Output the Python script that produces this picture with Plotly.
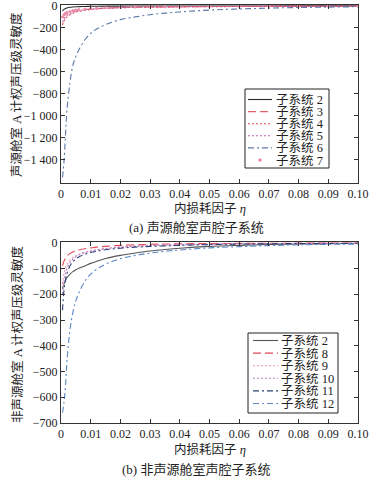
import plotly.graph_objects as go

# ---------------- data ----------------
eta = [0.0005, 0.001, 0.0015, 0.002, 0.003, 0.004, 0.005, 0.006, 0.008, 0.01,
       0.012, 0.015, 0.02, 0.025, 0.03, 0.035, 0.04, 0.05, 0.06, 0.07, 0.08, 0.09, 0.1]

# (a) source cabin
a_sub2 = [-48, -32, -24, -19, -13, -10, -8, -7, -5, -4, -3, -2.5, -2, -1.5, -1.2, -1, -0.9, -0.7, -0.6, -0.5, -0.4, -0.4, -0.3]
a_sub3 = [-110, -90, -78, -70, -58, -50, -45, -40, -33, -28, -24, -20, -15, -12, -10, -9, -8, -6, -5, -4, -4, -3, -3]
a_sub4 = [-175, -140, -115, -100, -80, -66, -57, -50, -40, -33, -28, -23, -17, -14, -12, -10, -9, -7, -6, -5, -4, -4, -3]
a_sub5 = [-150, -120, -100, -88, -70, -58, -50, -44, -35, -29, -25, -20, -15, -12, -10, -9, -8, -6, -5, -4, -4, -3, -3]
a_sub6 = [-1560, -1420, -1180, -950, -700, -540, -460, -400, -310, -250, -210, -170, -125, -100, -80, -66, -55, -38, -28, -20, -15, -11, -8]
a_sub7 = [-100, -80, -68, -60, -50, -43, -38, -34, -28, -24, -21, -17, -13, -11, -9, -8, -7, -6, -5, -4, -3, -3, -2]

# (b) non-source cabins
b_sub2 = [-178, -160, -148, -135, -122, -112, -105, -99, -90, -80, -72, -61, -49, -40, -32, -26, -21, -14, -10, -7, -5, -4, -3]
b_sub8 = [-90, -72, -60, -52, -42, -36, -32, -28, -23, -20, -17, -14, -10, -8, -6, -5, -4, -3, -2.5, -2, -1.5, -1.2, -1]
b_sub9 = [-160, -120, -100, -85, -68, -57, -50, -45, -37, -31, -27, -22, -17, -13, -11, -9, -8, -6, -4, -3, -3, -2, -2]
b_sub10 = [-200, -150, -120, -100, -78, -64, -55, -48, -39, -33, -28, -23, -17, -14, -11, -9, -8, -6, -4, -3, -3, -2, -2]
b_sub11 = [-262, -185, -145, -120, -90, -74, -63, -55, -45, -38, -33, -27, -21, -17, -14, -12, -10, -7, -5, -4, -3, -3, -2]
b_sub12 = [-660, -620, -560, -460, -340, -270, -225, -195, -150, -122, -103, -83, -62, -49, -40, -33, -28, -20, -15, -11, -8, -6, -5]

x_ticks = [0, 0.01, 0.02, 0.03, 0.04, 0.05, 0.06, 0.07, 0.08, 0.09, 0.10]
x_ticktext = ["0", "0.01", "0.02", "0.03", "0.04", "0.05", "0.06", "0.07", "0.08", "0.09", "0.10"]
ya_ticks = [0, -200, -400, -600, -800, -1000, -1200, -1400]
ya_ticktext = ["0", "\u2212200", "\u2212400", "\u2212600", "\u2212800", "\u22121 000", "\u22121 200", "\u22121 400"]
yb_ticks = [0, -100, -200, -300, -400, -500, -600, -700]
yb_ticktext = ["0", "\u2212100", "\u2212200", "\u2212300", "\u2212400", "\u2212500", "\u2212600", "\u2212700"]

FONT = "Liberation Serif, Times New Roman, Noto Sans CJK SC, serif"
W, H = 369, 479

fig = go.Figure()

series_a = [
    (a_sub2, "子系统 2", "#2a2a2a", "solid"),
    (a_sub3, "子系统 3", "#e0606e", "8px,4px"),
    (a_sub4, "子系统 4", "#e04a5a", "2px,2px"),
    (a_sub5, "子系统 5", "#c86ab8", "2px,2px"),
    (a_sub6, "子系统 6", "#5a78a8", "6px,3px,2px,3px"),
    (a_sub7, "子系统 7", "#e890a8", None),
]
series_b = [
    (b_sub2, "子系统 2", "#555555", "solid"),
    (b_sub8, "子系统 8", "#e04a5a", "8px,4px"),
    (b_sub9, "子系统 9", "#e890b8", "2px,2px"),
    (b_sub10, "子系统 10", "#b080c0", "2px,2px"),
    (b_sub11, "子系统 11", "#2c3e78", "6px,3px,2px,3px"),
    (b_sub12, "子系统 12", "#5a86c8", "6px,3px,2px,3px"),
]

def add_series(series, xa, ya):
    for y, name, color, dash in series:
        if dash is None:
            fig.add_trace(go.Scatter(x=eta, y=y, name=name, mode="markers", xaxis=xa, yaxis=ya,
                                     showlegend=False, marker=dict(color=color, size=3)))
        else:
            fig.add_trace(go.Scatter(x=eta, y=y, name=name, mode="lines", xaxis=xa, yaxis=ya,
                                     showlegend=False,
                                     line=dict(color=color, dash=dash, width=1.1, shape="spline")))

add_series(series_a, "x", "y")
add_series(series_b, "x2", "y2")

xdom = [61 / W, 358 / W]
axis_common = dict(showline=True, linecolor="#333", linewidth=1, mirror="ticks", automargin=False,
                   ticks="inside", ticklen=4, tickcolor="#333", showgrid=False, zeroline=False,
                   ticklabeloverflow="allow",
                   tickfont=dict(family=FONT, size=12, color="#222"))

fig.update_layout(
    width=W, height=H, margin=dict(l=0, r=0, t=0, b=0),
    paper_bgcolor="white", plot_bgcolor="white", showlegend=False,
    font=dict(family=FONT, size=12, color="#222"),
    xaxis=dict(domain=xdom, anchor="y", range=[0, 0.1], tickvals=x_ticks, ticktext=x_ticktext, **axis_common),
    yaxis=dict(domain=[1 - 183 / H, 1 - 5 / H], anchor="x", range=[-1610, 8],
               tickvals=ya_ticks, ticktext=ya_ticktext, **axis_common),
    xaxis2=dict(domain=xdom, anchor="y2", range=[0, 0.1], tickvals=x_ticks, ticktext=x_ticktext, **axis_common),
    yaxis2=dict(domain=[1 - 423 / H, 1 - 242 / H], anchor="x2", range=[-700, 3],
                tickvals=yb_ticks, ticktext=yb_ticktext, **axis_common),
)

# ---------- compact legends (paper coordinates from pixel layout) ----------
def px_x(v):
    return v / W

def px_y(v):
    return 1 - v / H

def draw_legend(series, box, row0, step, sx0, sx1, tx):
    x0, y0, x1, y1 = box
    fig.add_shape(type="rect", xref="paper", yref="paper",
                  x0=px_x(x0), x1=px_x(x1), y0=px_y(y1), y1=px_y(y0),
                  line=dict(color="#222", width=1), fillcolor="white", layer="above")
    for i, (_, name, color, dash) in enumerate(series):
        yy = row0 + i * step
        if dash is None:
            fig.add_shape(type="circle", xref="paper", yref="paper",
                          x0=px_x((sx0 + sx1) / 2 - 1.5), x1=px_x((sx0 + sx1) / 2 + 1.5),
                          y0=px_y(yy + 1.5), y1=px_y(yy - 1.5),
                          line=dict(color=color, width=0.5), fillcolor=color, layer="above")
        else:
            fig.add_shape(type="line", xref="paper", yref="paper",
                          x0=px_x(sx0), x1=px_x(sx1), y0=px_y(yy), y1=px_y(yy),
                          line=dict(color=color, width=1.1, dash=dash), layer="above")
        fig.add_annotation(x=px_x(tx), y=px_y(yy), xref="paper", yref="paper", text=name,
                           showarrow=False, xanchor="left", yanchor="middle", height=11,
                           borderpad=0, font=dict(family=FONT, size=12.5, color="#222"))

draw_legend(series_a, (245, 89, 329, 168), 99.5, 12.1, 248, 272, 275)
draw_legend(series_b, (248, 333, 338, 413), 340.5, 12.6, 253, 278, 280)

annos = [
    dict(x=17 / W, y=1 - 95 / H, text="声源舱室 A 计权声压级灵敏度", textangle=-90, size=12.5),
    dict(x=17 / W, y=1 - 334 / H, text="非声源舱室 A 计权声压级灵敏度", textangle=-90, size=12.5),
    dict(x=210 / W, y=1 - 209 / H, text="内损耗因子 <i>η</i>", textangle=0, size=12.5),
    dict(x=210 / W, y=1 - 450 / H, text="内损耗因子 <i>η</i>", textangle=0, size=12.5),
    dict(x=196 / W, y=1 - 228 / H, text="(a) 声源舱室声腔子系统", textangle=0, size=13),
    dict(x=196 / W, y=1 - 469 / H, text="(b) 非声源舱室声腔子系统", textangle=0, size=13),
]
for a in annos:
    fig.add_annotation(x=a["x"], y=a["y"], xref="paper", yref="paper", text=a["text"],
                       textangle=a["textangle"], showarrow=False, xanchor="center", yanchor="middle",
                       font=dict(family=FONT, size=a["size"], color="#222"))

fig.write_html("out.html", config={"displayModeBar": False},
               post_script="document.body.style.margin='0';document.body.style.overflow='hidden';")
